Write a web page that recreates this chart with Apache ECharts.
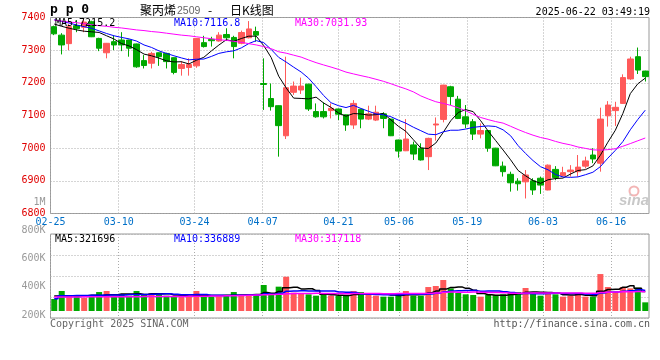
<!DOCTYPE html>
<html><head><meta charset="utf-8">
<script src="https://cdn.jsdelivr.net/npm/echarts@6/dist/echarts.min.js"></script>
<style>html,body{margin:0;padding:0;background:#fff}#c{width:660px;height:360px}</style>
</head><body><div id="c"></div>
<script>
const dates = ['02-25','02-26','02-27','02-28','03-03','03-04','03-05','03-06','03-07','03-10','03-11','03-12','03-13','03-14','03-17','03-18','03-19','03-20','03-21','03-24','03-25','03-26','03-27','03-28','03-31','04-01','04-02','04-03','04-07','04-08','04-09','04-10','04-11','04-14','04-15','04-16','04-17','04-18','04-21','04-22','04-23','04-24','04-25','04-28','04-29','04-30','05-06','05-07','05-08','05-09','05-12','05-13','05-14','05-15','05-16','05-19','05-20','05-21','05-22','05-23','05-26','05-27','05-28','05-29','05-30','06-03','06-04','06-05','06-06','06-09','06-10','06-11','06-12','06-13','06-16','06-17','06-18','06-19','06-20','06-23'];
const tickDates = ['02-25','03-10','03-24','04-07','04-21','05-06','05-19','06-03','06-16'];
const opens = [7372,7346,7320,7375,7370,7387,7336,7292,7326,7331,7331,7319,7268,7260,7292,7290,7277,7244,7247,7252,7323,7333,7328,7348,7339,7321,7338,7357,7198,7152,7130,7038,7171,7178,7196,7112,7112,7115,7120,7102,7071,7119,7089,7086,7105,7089,7025,6992,7010,7000,6974,7071,7088,7188,7150,7096,7081,7043,7054,7000,6945,6920,6899,6897,6900,6908,6872,6935,6916,6928,6928,6945,6979,6954,7099,7115,7137,7212,7280,7236];
const closes = [7350,7316,7372,7366,7386,7341,7306,7321,7316,7316,7306,7249,7253,7290,7280,7265,7232,7256,7256,7336,7311,7329,7346,7338,7311,7354,7365,7346,7195,7127,7069,7185,7190,7190,7120,7096,7096,7122,7104,7071,7137,7089,7105,7110,7091,7038,6991,7028,6982,6964,7030,7074,7193,7158,7091,7074,7043,7054,7000,6946,6928,6894,6891,6918,6872,6887,6948,6910,6925,6933,6942,6961,6967,7089,7132,7125,7216,7273,7239,7219];
const lows = [7346,7287,7300,7355,7355,7340,7297,7275,7300,7297,7280,7246,7244,7244,7252,7244,7226,7222,7222,7246,7308,7311,7326,7328,7275,7318,7336,7326,7117,7115,6974,7028,7163,7166,7114,7093,7091,7091,7086,7053,7059,7061,7086,7083,7061,7037,6971,6991,6964,6962,6933,7023,7079,7132,7089,7061,7025,7030,6989,6945,6913,6867,6870,6846,6857,6860,6871,6902,6913,6913,6913,6938,6954,6928,7066,7068,7136,7209,7227,7204];
const highs = [7375,7352,7380,7392,7395,7390,7338,7322,7344,7355,7332,7320,7285,7295,7293,7292,7278,7266,7275,7337,7344,7341,7355,7367,7344,7360,7389,7372,7275,7198,7131,7280,7204,7216,7197,7137,7140,7137,7121,7103,7147,7120,7130,7130,7110,7090,7026,7089,7020,7015,7032,7094,7194,7191,7160,7132,7089,7076,7055,7001,6959,6928,6908,6933,6908,6913,6950,6945,6943,6948,6979,6974,7000,7124,7144,7142,7226,7280,7308,7237];
const ma5 = [7380,7373,7367,7362,7358,7356.2,7354.2,7344,7334,7320,7313,7301.6,7288,7282.8,7275.6,7267.4,7264,7264.6,7257.8,7269,7278.2,7297.6,7315.6,7332,7327,7335.6,7342.8,7342.8,7314.2,7277.4,7220.4,7184.4,7153.2,7152.2,7150.8,7156.2,7138.4,7124.8,7107.6,7097.8,7106,7104.6,7101.2,7102.4,7106.4,7086.6,7067,7051.6,7026,7000.6,6999,7015.6,7048.6,7083.8,7109.2,7118,7111.8,7084,7052.4,7023.4,6994.2,6964.4,6931.8,6915.4,6900.6,6892.4,6903.2,6907,6908.4,6920.6,6931.6,6934.2,6945.6,6978.4,7018.2,7054.8,7105.8,7167,7197,7214.4];
const ma10 = [7393,7388,7383,7377,7372,7367,7359,7351,7344,7339,7334.6,7327.9,7316,7308.4,7297.8,7290.2,7282.8,7276.3,7270.3,7272.3,7272.8,7280.8,7290.1,7294.9,7298,7306.9,7320.2,7329.2,7323.1,7302.2,7278,7263.6,7248,7233.2,7214.1,7188.3,7161.4,7139,7129.9,7124.3,7131.1,7121.5,7113,7105,7102.1,7096.3,7085.8,7076.4,7064.2,7053.5,7042.8,7041.3,7050.1,7054.9,7054.9,7058.5,7063.7,7066.3,7068.1,7066.3,7056.1,7038.1,7007.9,6983.9,6962,6943.3,6933.8,6919.4,6911.9,6910.6,6912,6918.7,6926.3,6943.4,6969.4,6993.2,7020,7056.3,7087.7,7116.3];
const ma30 = [7392,7389,7386,7384,7381,7378,7375,7373,7370,7368,7365,7362,7360,7357,7355,7352,7349,7346,7344,7341,7338,7335,7332,7330,7327,7324,7320,7316,7311,7304.5,7295.1,7290.8,7284.7,7278.8,7270,7261.8,7254.8,7248.2,7241.1,7232.9,7227.3,7222,7217,7211,7204.7,7197.2,7189.1,7181.5,7172.4,7160,7150.6,7142.1,7137,7131,7123.7,7114.4,7103.6,7093.9,7087.4,7081.4,7076.7,7067,7057,7047.9,7039.7,7032.7,7027.8,7020.7,7014.7,7010.1,7003.6,6999.4,6994.8,6994.1,6995.4,6998.3,7005.8,7014,7022.6,7031.1];
const volumes = [197000,328000,262000,246000,218000,235000,311000,328000,235000,278000,251000,328000,262000,295000,278000,251000,229000,240000,240000,328000,235000,235000,240000,262000,311000,262000,251000,262000,426000,262000,399000,562000,300000,289000,273000,251000,262000,251000,251000,251000,328000,311000,273000,251000,235000,235000,278000,328000,251000,251000,393000,410000,508000,371000,295000,273000,262000,235000,262000,262000,273000,311000,311000,377000,278000,251000,295000,273000,235000,251000,295000,235000,235000,606000,393000,317000,393000,371000,382000,142000];
const volMa5 = [245000,248000,250000,252000,250200,257800,254400,267600,265400,277400,280600,284000,270800,282800,282800,282800,263000,258600,247600,257600,254400,255600,255600,260000,256600,262000,265200,269600,302400,292600,320000,382200,389800,362400,364600,335000,275000,265200,257600,253200,268600,278400,282800,282800,279600,261000,254400,265400,265400,268600,300200,326600,362600,386600,395400,371400,341800,287200,265400,258800,258800,268600,283800,306800,310000,305600,302400,294800,266400,261000,269800,257800,250200,324400,352800,357200,388800,416000,371200,321000];
const volMa10 = [200000,250000,252000,254000,256000,258000,260000,261000,262000,263800,269200,269200,269200,274100,280100,281700,273500,264700,265200,270200,268600,259300,257100,253800,257100,258200,260400,262600,281200,274600,291000,323700,329700,332400,328600,327500,328600,327500,310000,308900,301800,276700,274000,270200,266400,264800,266400,274100,274100,274100,280600,290500,314000,326000,332000,335800,334200,324900,326000,327100,315100,305200,285500,286100,284400,282200,285500,289300,286600,285500,287700,280100,272500,295400,306900,313500,323300,333100,347800,336900];
const volMa30 = [230000,230000,231000,231000,232000,232000,233000,233000,234000,234000,235000,235000,236000,236000,237000,237000,238000,239000,240000,241000,243000,245000,247000,249000,252000,255000,258000,262000,266000,269500,276300,284100,285300,286800,288600,289100,287500,284900,285500,284600,287100,286600,286900,285500,284000,283500,285100,288100,288400,285900,291100,297000,305900,309500,309000,309400,309700,308800,303400,303400,299200,290800,291200,294100,294300,294300,295400,296100,295600,295600,294500,291900,290700,302500,307800,310500,314300,315800,320100,316500];
const priceMaText = ['MA5:7215.2','MA10:7116.8','MA30:7031.93'];
const volMaText = ['MA5:321696','MA10:336889','MA30:317118'];

const RED = '#ff5a5a', GREEN = '#00a800';
const MONO = '"DejaVu Sans Mono","Liberation Mono",monospace';
const CJK = '"Noto Sans CJK SC",sans-serif';
const L = 50.5, W = 598.5;
const dotted = {color:'#aaa', type:[1,2], width:1};
const isTick = (idx, val) => tickDates.indexOf(val) >= 0;
const candleData = dates.map((d, i) => [opens[i], closes[i], lows[i], highs[i]]);

function txt(x, y, text, fill, font, align) {
  return {type:'text', x:x, y:y, silent:true, z:100,
    style:{text:text, fill:fill, font:font, align:align || 'left', verticalAlign:'middle'}};
}

const chart = echarts.init(document.getElementById('c'));
chart.setOption({
  animation:false,
  backgroundColor:'#fff',
  grid:[
    {left:L, width:W, top:17.5, height:196, show:true, borderColor:'#999', borderWidth:1},
    {left:L, width:W, top:234, height:84, show:true, borderColor:'#999', borderWidth:1},
    {left:L, width:W, top:202.4, height:140.8, show:false}
  ],
  xAxis:[
    {type:'category', gridIndex:0, data:dates, boundaryGap:true, show:false},
    {type:'category', gridIndex:0, data:dates, boundaryGap:false, position:'bottom',
      axisLine:{show:false}, axisTick:{show:false},
      axisLabel:{interval:isTick, color:'#0070c8', fontFamily:MONO, fontSize:10, margin:4},
      splitLine:{show:true, interval:isTick, lineStyle:dotted}},
    {type:'category', gridIndex:1, data:dates, boundaryGap:true, show:false},
    {type:'category', gridIndex:1, data:dates, boundaryGap:false, position:'bottom',
      axisLine:{show:false}, axisTick:{show:false}, axisLabel:{show:false},
      splitLine:{show:true, interval:isTick, lineStyle:dotted}},
    {type:'value', gridIndex:2, min:0, max:1, show:false}
  ],
  yAxis:[
    {type:'value', gridIndex:0, min:6800, max:7400, interval:100,
      axisLine:{show:false}, axisTick:{show:false},
      axisLabel:{color:'#e00000', fontFamily:MONO, fontSize:10, margin:5, padding:[0,0,5,0],
        formatter:v => String(v)},
      splitLine:{show:true, lineStyle:dotted}},
    {type:'value', gridIndex:1, min:-115000, max:1263000, show:false},
    {type:'value', gridIndex:1, min:0, max:4, interval:1,
      axisLine:{show:false}, axisTick:{show:false}, axisLabel:{show:false},
      splitLine:{show:true, lineStyle:dotted}},
    {type:'value', gridIndex:2, min:0, max:1000000, interval:200000,
      axisLine:{show:false}, axisTick:{show:false}, splitLine:{show:false},
      axisLabel:{showMinLabel:false, color:'#999', fontFamily:MONO, fontSize:10, margin:5,
        formatter:v => v >= 1000000 ? (v/1000000) + 'M' : (v/1000) + 'K'}}
  ],
  series:[
    {type:'candlestick', xAxisIndex:0, yAxisIndex:0, data:candleData, barWidth:6,
      itemStyle:{color:RED, color0:GREEN, borderColor:RED, borderColor0:GREEN, borderWidth:1}},
    {type:'line', xAxisIndex:0, yAxisIndex:0, data:ma5, symbol:'none', lineStyle:{color:'#000', width:1}},
    {type:'line', xAxisIndex:0, yAxisIndex:0, data:ma10, symbol:'none', lineStyle:{color:'#0000ff', width:1}},
    {type:'line', xAxisIndex:0, yAxisIndex:0, data:ma30, symbol:'none', lineStyle:{color:'#ff00ff', width:1}},
    {type:'bar', xAxisIndex:2, yAxisIndex:1, data:volumes, barWidth:6,
      itemStyle:{color:p => closes[p.dataIndex] >= opens[p.dataIndex] ? RED : GREEN}},
    {type:'line', xAxisIndex:2, yAxisIndex:1, data:volMa5, step:'middle', symbol:'none', lineStyle:{color:'#000', width:1.5}},
    {type:'line', xAxisIndex:2, yAxisIndex:1, data:volMa10, step:'middle', symbol:'none', lineStyle:{color:'#0000ff', width:1.5}},
    {type:'line', xAxisIndex:2, yAxisIndex:1, data:volMa30, step:'middle', symbol:'none', lineStyle:{color:'#ff00ff', width:1.5}}
  ],
  graphic:[
    txt(50, 10, 'p p 0', '#000', 'bold 13px ' + MONO),
    txt(140, 10, '聚丙烯', '#000', '12px ' + CJK),
    txt(177, 11, '2509', '#666', '10.5px "Liberation Sans",Arial,sans-serif'),
    txt(208, 10, '-', '#000', '12px ' + CJK),
    txt(230, 10, '日K线图', '#000', '12px ' + CJK),
    txt(650, 12, '2025-06-22 03:49:19', '#000', '10px ' + MONO, 'right'),
    txt(55, 23, priceMaText[0], '#000', '10px ' + MONO),
    txt(174, 23, priceMaText[1], '#0000ff', '10px ' + MONO),
    txt(295, 23, priceMaText[2], '#ff00ff', '10px ' + MONO),
    txt(55, 239, volMaText[0], '#000', '10px ' + MONO),
    txt(174, 239, volMaText[1], '#0000ff', '10px ' + MONO),
    txt(295, 239, volMaText[2], '#ff00ff', '10px ' + MONO),
    txt(50, 324, 'Copyright 2025 SINA.COM', '#666', '10px ' + MONO),
    txt(650, 324, 'http://finance.sina.com.cn', '#555', '10px ' + MONO, 'right'),
    {type:'circle', shape:{cx:634, cy:191, r:4.5}, silent:true, z:1,
      style:{fill:'none', stroke:'#f3b5b5', lineWidth:2}},
    txt(619, 201, 'sina', '#c8c8c8', 'italic bold 15px "Liberation Sans",Arial,sans-serif')
  ]
});
</script>
</body></html>
